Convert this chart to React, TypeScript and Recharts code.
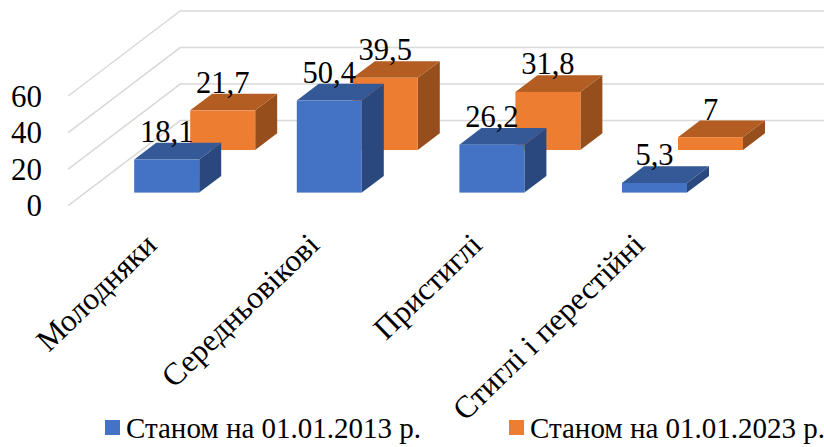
import { BarChart, Bar, XAxis, YAxis, CartesianGrid, LabelList, Legend } from "recharts";

const categories = ["Молодняки", "Середньовікові", "Пристиглі", "Стиглі і перестійні"];
const values2013 = [18.1, 50.4, 26.2, 5.3];
const values2023 = [21.7, 39.5, 31.8, 7];
const yTicks = [0, 20, 40, 60];
const seriesNames = ["Станом на 01.01.2013 р.", "Станом на 01.01.2023 р."];

const chartData = categories.map((name, i) => ({
  name,
  y2013: values2013[i],
  y2023: values2023[i],
}));

const FONT = "'Liberation Serif', 'Times New Roman', serif";
const BLUE = { face: "#4472C4", top: "#355897", side: "#2A487D" };
const ORANGE = { face: "#ED7D31", top: "#B35D22", side: "#964F1C" };

// depth of one box, and of the whole floor of the fake 3D plot
const BOX_DX = 22;
const BOX_DY = 16.7;
const FLOOR_DX = 112;
const FLOOR_DY = 85;
// how far each series is pushed back from the front edge of the floor
const BLUE_SHIFT = { x: 17, y: 13 };
const ORANGE_SHIFT = { x: 73, y: 55.6 };

function makeBox(colors: typeof BLUE, shift: { x: number; y: number }) {
  return function Box(props: any) {
    const x = props.x + shift.x;
    const y = props.y - shift.y;
    const w = props.width;
    const h = props.height;
    const top = `${x},${y} ${x + BOX_DX},${y - BOX_DY} ${x + w + BOX_DX},${y - BOX_DY} ${x + w},${y}`;
    const side = `${x + w},${y} ${x + w + BOX_DX},${y - BOX_DY} ${x + w + BOX_DX},${y + h - BOX_DY} ${x + w},${y + h}`;
    return (
      <g>
        <polygon points={side} fill={colors.side} />
        <polygon points={top} fill={colors.top} />
        <rect x={x} y={y} width={w} height={h} fill={colors.face} />
      </g>
    );
  };
}

function makeValueLabel(shift: { x: number; y: number }) {
  return function ValueLabel(props: any) {
    const cx = props.x + props.width / 2 + shift.x;
    const baseline = props.y - shift.y - BOX_DY - 1;
    return (
      <text x={cx} y={baseline} textAnchor="middle" fontFamily={FONT} fontSize={30.5} fill="#000">
        {String(props.value).replace(".", ",")}
      </text>
    );
  };
}

// each grid line runs up the left wall, then along the back wall
function wallLine(props: any) {
  const { x1, y1, index } = props;
  const points = `${x1},${y1} ${x1 + FLOOR_DX},${y1 - FLOOR_DY} 824,${y1 - FLOOR_DY}`;
  return <polyline key={index} points={points} fill="none" stroke="#D9D9D9" strokeWidth={1.5} />;
}

function YTick(props: any) {
  return (
    <text x={42} y={props.y + 10.5} textAnchor="end" fontFamily={FONT} fontSize={31} fill="#000">
      {props.payload.value}
    </text>
  );
}

function XTick(props: any) {
  const px = props.x + 9;
  const py = 247;
  return (
    <text
      x={px}
      y={py}
      textAnchor="end"
      fontFamily={FONT}
      fontSize={31.5}
      fill="#000"
      transform={`rotate(-44 ${px} ${py})`}
    >
      {props.payload.value}
    </text>
  );
}

function LegendRow(props: any) {
  const items = props.payload ?? [];
  return (
    <div style={{ position: "relative", height: 30, fontFamily: FONT, fontSize: 29, color: "#000" }}>
      {items.map((item: any, i: number) => (
        <div key={item.value} style={{ position: "absolute", left: i === 0 ? 105 : 509, top: 0, whiteSpace: "nowrap" }}>
          <span
            style={{
              position: "absolute",
              left: 0,
              top: 0,
              width: 15,
              height: 15,
              background: item.color,
            }}
          />
          <span style={{ position: "absolute", left: 21, top: -7, lineHeight: "30px" }}>{item.value}</span>
        </div>
      ))}
    </div>
  );
}

export default function App() {
  return (
    <div style={{ position: "absolute", left: 0, top: 0, width: 824, height: 447, overflow: "hidden", background: "#fff" }}>
      <BarChart
        width={824}
        height={447}
        data={chartData}
        margin={{ top: 96, right: 105.4, bottom: 0, left: 0 }}
        barSize={65}
        barGap={-65}
      >
        <CartesianGrid vertical={false} horizontal={wallLine} />
        <XAxis dataKey="name" height={241.4} axisLine={false} tickLine={false} interval={0} tick={XTick} />
        <YAxis width={68.2} domain={[0, 60]} ticks={yTicks} axisLine={false} tickLine={false} tick={YTick} />
        <Legend
          layout="horizontal"
          verticalAlign="middle"
          content={LegendRow}
          wrapperStyle={{ left: 0, top: 420, width: 824, height: 30 }}
        />
        <Bar dataKey="y2023" name={seriesNames[1]} fill={ORANGE.face} shape={makeBox(ORANGE, ORANGE_SHIFT)} isAnimationActive={false}>
          <LabelList dataKey="y2023" content={makeValueLabel(ORANGE_SHIFT)} />
        </Bar>
        <Bar dataKey="y2013" name={seriesNames[0]} fill={BLUE.face} shape={makeBox(BLUE, BLUE_SHIFT)} isAnimationActive={false}>
          <LabelList dataKey="y2013" content={makeValueLabel(BLUE_SHIFT)} />
        </Bar>
      </BarChart>
    </div>
  );
}
